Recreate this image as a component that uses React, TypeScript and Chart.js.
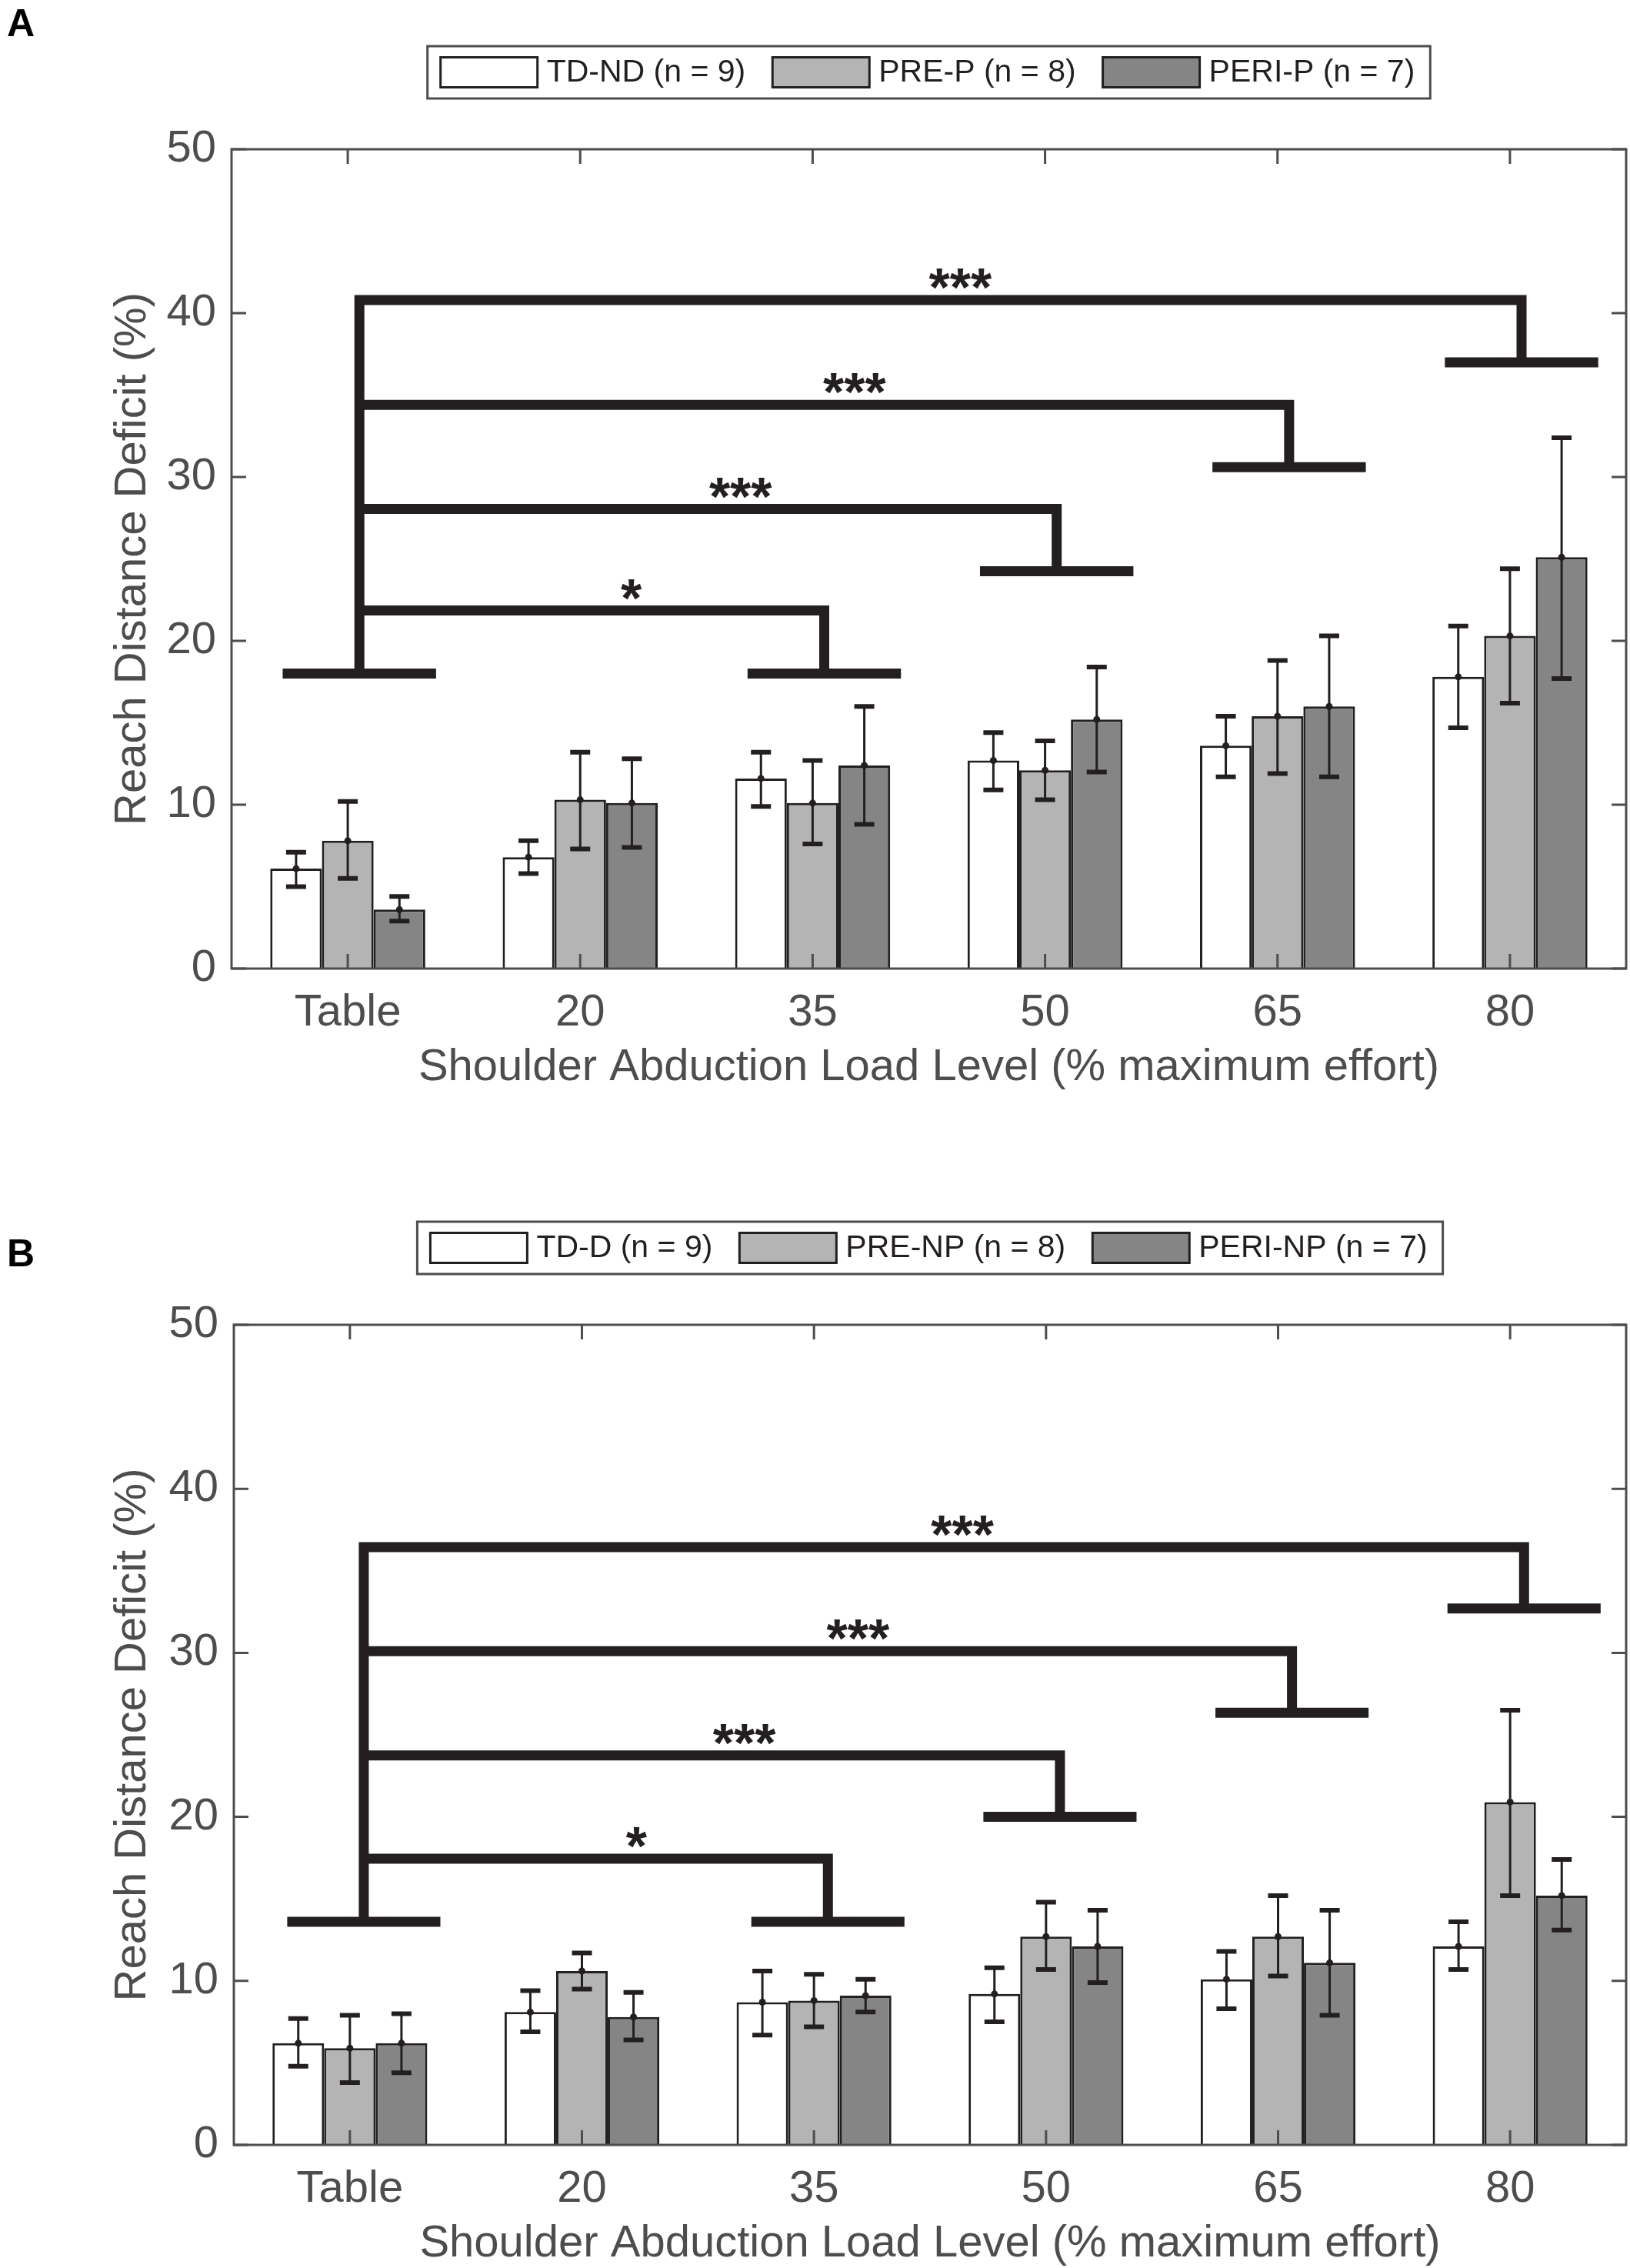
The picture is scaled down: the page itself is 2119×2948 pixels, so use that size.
import { useEffect, useRef } from "react";
import { Chart, registerables } from "chart.js";

Chart.register(...registerables);

const FONT = "'Liberation Sans', Arial, Helvetica, sans-serif";
const INK = "#231f20";
const AXIS = "#4d4d4d";
const FILLS = ["#ffffff", "#b4b4b5", "#858586"];

const categories = ["Table", "20", "35", "50", "65", "80"];
const yTicks = [0, 10, 20, 30, 40, 50];

// panel A: paretic arm
const namesA = ["TD-ND (n = 9)", "PRE-P (n = 8)", "PERI-P (n = 7)"];
const tdnd = [6.1, 6.8, 11.6, 12.7, 13.6, 17.8];
const tdndLo = [5.0, 5.8, 9.9, 10.9, 11.7, 14.7];
const tdndHi = [7.1, 7.8, 13.2, 14.4, 15.4, 20.9];
const preP = [7.8, 10.3, 10.1, 12.1, 15.4, 20.3];
const prePLo = [5.5, 7.3, 7.6, 10.3, 11.9, 16.2];
const prePHi = [10.2, 13.2, 12.7, 13.9, 18.8, 24.4];
const periP = [3.6, 10.1, 12.4, 15.2, 16.0, 25.1];
const periPLo = [2.9, 7.4, 8.8, 12.0, 11.7, 17.7];
const periPHi = [4.4, 12.8, 16.0, 18.4, 20.3, 32.4];

// panel B: non-paretic arm
const namesB = ["TD-D (n = 9)", "PRE-NP (n = 8)", "PERI-NP (n = 7)"];
const tdd = [6.2, 8.1, 8.7, 9.2, 10.1, 12.1];
const tddLo = [4.8, 6.9, 6.7, 7.5, 8.3, 10.7];
const tddHi = [7.7, 9.4, 10.6, 10.8, 11.8, 13.6];
const preNP = [5.9, 10.6, 8.8, 12.7, 12.7, 20.9];
const preNPLo = [3.8, 9.5, 7.2, 10.7, 10.3, 15.2];
const preNPHi = [7.9, 11.7, 10.4, 14.8, 15.2, 26.5];
const periNP = [6.2, 7.8, 9.1, 12.1, 11.1, 15.2];
const periNPLo = [4.4, 6.4, 8.1, 9.9, 7.9, 13.1];
const periNPHi = [8.0, 9.3, 10.1, 14.3, 14.3, 17.4];

// significance brackets: Table vs 35, 50, 65, 80
const bracketTargets = [2, 3, 4, 5];
const bracketStars = ["*", "***", "***", "***"];
const starPosA = [1.22, 1.69, 2.18, 2.635];
const starPosB = [1.235, 1.7, 2.19, 2.64];
const baseA = [18.0, 18.0, 24.25, 30.6, 37.0];
const barA = [21.85, 28.05, 34.4, 40.8];
const baseB = [13.6, 13.6, 20.0, 26.35, 32.7];
const barB = [17.45, 23.75, 30.1, 36.45];

const xTitle = "Shoulder Abduction Load Level (% maximum effort)";
const yTitle = "Reach Distance Deficit (%)";

const X_AXIS_H = 158;

interface PanelProps {
  letter: string;
  letterY: number;
  legendY: number;
  names: string[];
  means: number[][];
  lows: number[][];
  highs: number[][];
  bases: number[];
  bars: number[];
  starPos: number[];
  shift: number;
  left: number;
  top: number;
  bottom: number;
  offsetTop: number;
}

function Panel(p: PanelProps) {
  const canvasRef = useRef<HTMLCanvasElement>(null);
  const height = p.bottom + X_AXIS_H;

  useEffect(() => {
    if (!canvasRef.current) return;

    const overlay = {
      id: "overlay",
      afterDatasetsDraw(chart: Chart) {
        const ctx = chart.ctx;
        const x = chart.scales.x;
        const y = chart.scales.y;
        ctx.save();
        // error bars + means
        ctx.strokeStyle = INK;
        ctx.fillStyle = INK;
        p.means.forEach((_, di) => {
          const meta = chart.getDatasetMeta(di);
          meta.data.forEach((el: any, i: number) => {
            const cx = el.x;
            const yl = y.getPixelForValue(p.lows[di][i]);
            const yh = y.getPixelForValue(p.highs[di][i]);
            ctx.lineWidth = 3;
            ctx.beginPath();
            ctx.moveTo(cx, yl);
            ctx.lineTo(cx, yh);
            ctx.stroke();
            ctx.lineWidth = 6;
            ctx.beginPath();
            ctx.moveTo(cx - 13, yl);
            ctx.lineTo(cx + 13, yl);
            ctx.moveTo(cx - 13, yh);
            ctx.lineTo(cx + 13, yh);
            ctx.stroke();
            ctx.beginPath();
            ctx.arc(cx, y.getPixelForValue(p.means[di][i]), 4.5, 0, Math.PI * 2);
            ctx.fill();
          });
        });

        // brackets
        const c0 = x.getPixelForValue(0);
        const cw = x.getPixelForValue(1) - c0;
        const px = (v: number) => c0 + v * cw;
        const mainX = px(p.shift);
        ctx.lineWidth = 13;
        ctx.lineCap = "butt";
        ctx.lineJoin = "miter";
        const baseLine = (cat: number, v: number) => {
          ctx.beginPath();
          ctx.moveTo(px(cat + p.shift - 0.33), y.getPixelForValue(v));
          ctx.lineTo(px(cat + p.shift + 0.33), y.getPixelForValue(v));
          ctx.stroke();
        };
        baseLine(0, p.bases[0]);
        const last = bracketTargets.length - 1;
        bracketTargets.forEach((t, j) => {
          const tx = px(t + p.shift);
          const hy = y.getPixelForValue(p.bars[j]);
          ctx.beginPath();
          if (j === last) {
            ctx.moveTo(mainX, y.getPixelForValue(p.bases[0]));
            ctx.lineTo(mainX, hy);
          } else {
            ctx.moveTo(mainX, hy);
          }
          ctx.lineTo(tx, hy);
          ctx.lineTo(tx, y.getPixelForValue(p.bases[j + 1]));
          ctx.stroke();
          baseLine(t, p.bases[j + 1]);

          ctx.font = `bold 70px ${FONT}`;
          ctx.textAlign = "center";
          ctx.textBaseline = "alphabetic";
          ctx.fillText(bracketStars[j], px(p.starPos[j]), hy + 8);
        });
        ctx.restore();
      },
      afterDraw(chart: Chart) {
        const ctx = chart.ctx;
        const a = chart.chartArea;
        const x = chart.scales.x;
        const y = chart.scales.y;
        ctx.save();
        // axes box
        ctx.strokeStyle = AXIS;
        ctx.lineWidth = 3;
        ctx.strokeRect(a.left, a.top, a.right - a.left, a.bottom - a.top);
        ctx.beginPath();
        categories.forEach((_, i) => {
          const tx = x.getPixelForValue(i);
          ctx.moveTo(tx, a.bottom);
          ctx.lineTo(tx, a.bottom - 19);
          ctx.moveTo(tx, a.top);
          ctx.lineTo(tx, a.top + 19);
        });
        yTicks.forEach((v) => {
          const ty = y.getPixelForValue(v);
          ctx.moveTo(a.left, ty);
          ctx.lineTo(a.left + 19, ty);
          ctx.moveTo(a.right, ty);
          ctx.lineTo(a.right - 19, ty);
        });
        ctx.stroke();

        // legend
        ctx.font = `41px ${FONT}`;
        const widths = p.names.map((n) => ctx.measureText(n).width);
        const total =
          17 + widths.reduce((s, w) => s + w + 126 + 12, 0) + 35 * 2 + 20;
        const cx = (a.left + a.right) / 2;
        let lx = cx - total / 2;
        const cy = p.legendY;
        ctx.fillStyle = "#ffffff";
        ctx.fillRect(lx, cy - 34, total, 68);
        ctx.strokeStyle = AXIS;
        ctx.lineWidth = 3;
        ctx.strokeRect(lx, cy - 34, total, 68);
        lx += 17;
        p.names.forEach((n, i) => {
          ctx.fillStyle = FILLS[i];
          ctx.fillRect(lx, cy - 19.5, 126, 39);
          ctx.strokeStyle = INK;
          ctx.lineWidth = 3;
          ctx.strokeRect(lx, cy - 19.5, 126, 39);
          ctx.fillStyle = INK;
          ctx.textAlign = "left";
          ctx.textBaseline = "middle";
          ctx.fillText(n, lx + 126 + 12, cy + 1);
          lx += 126 + 12 + widths[i] + 35;
        });

        // panel letter
        ctx.fillStyle = "#000000";
        ctx.font = `bold 50px ${FONT}`;
        ctx.textAlign = "left";
        ctx.textBaseline = "alphabetic";
        ctx.fillText(p.letter, 9, p.letterY);
        ctx.restore();
      },
    };

    const chart = new Chart(canvasRef.current, {
      type: "bar",
      data: {
        labels: categories,
        datasets: p.means.map((m, i) => ({
          label: p.names[i],
          data: m,
          backgroundColor: FILLS[i],
          borderColor: INK,
          borderWidth: 3,
          categoryPercentage: 0.667,
          barPercentage: 1,
        })),
      },
      options: {
        responsive: false,
        animation: false,
        devicePixelRatio: 1,
        layout: { padding: { left: 0, top: p.top, right: 5, bottom: 0 } },
        plugins: { legend: { display: false }, tooltip: { enabled: false } },
        scales: {
          x: {
            grid: { display: false, drawTicks: false },
            border: { display: false },
            ticks: {
              font: { family: FONT, size: 58 },
              color: AXIS,
              padding: 23,
              maxRotation: 0,
              autoSkip: false,
            },
            title: {
              display: true,
              text: xTitle,
              font: { family: FONT, size: 58 },
              color: AXIS,
              padding: { top: 0, bottom: -6 },
            },
            afterFit: (s: any) => {
              s.height = X_AXIS_H;
            },
          },
          y: {
            min: 0,
            max: 50,
            grid: { display: false, drawTicks: false },
            border: { display: false },
            ticks: {
              stepSize: 10,
              font: { family: FONT, size: 58 },
              color: AXIS,
              padding: 20,
            },
            title: {
              display: true,
              text: yTitle,
              font: { family: FONT, size: 58 },
              color: AXIS,
              padding: { top: 138, bottom: 0 },
            },
            afterFit: (s: any) => {
              s.width = p.left;
            },
          },
        },
      },
      plugins: [overlay],
    });

    return () => {
      chart.destroy();
    };
  }, []);

  return (
    <canvas
      ref={canvasRef}
      width={2119}
      height={height}
      style={{
        position: "absolute",
        left: 0,
        top: p.offsetTop,
        width: "2119px",
        height: `${height}px`,
      }}
    />
  );
}

export default function App() {
  return (
    <div
      style={{
        position: "absolute",
        left: 0,
        top: 0,
        width: "2119px",
        height: "2948px",
        background: "#ffffff",
      }}
    >
      <Panel
        letter="A"
        letterY={47}
        legendY={94}
        names={namesA}
        means={[tdnd, preP, periP]}
        lows={[tdndLo, prePLo, periPLo]}
        highs={[tdndHi, prePHi, periPHi]}
        bases={baseA}
        bars={barA}
        starPos={starPosA}
        shift={0.05}
        left={301}
        top={194}
        bottom={1259}
        offsetTop={0}
      />
      <Panel
        letter="B"
        letterY={172}
        legendY={148}
        names={namesB}
        means={[tdd, preNP, periNP]}
        lows={[tddLo, preNPLo, periNPLo]}
        highs={[tddHi, preNPHi, periNPHi]}
        bases={baseB}
        bars={barB}
        starPos={starPosB}
        shift={0.06}
        left={304}
        top={248}
        bottom={1314}
        offsetTop={1474}
      />
    </div>
  );
}
